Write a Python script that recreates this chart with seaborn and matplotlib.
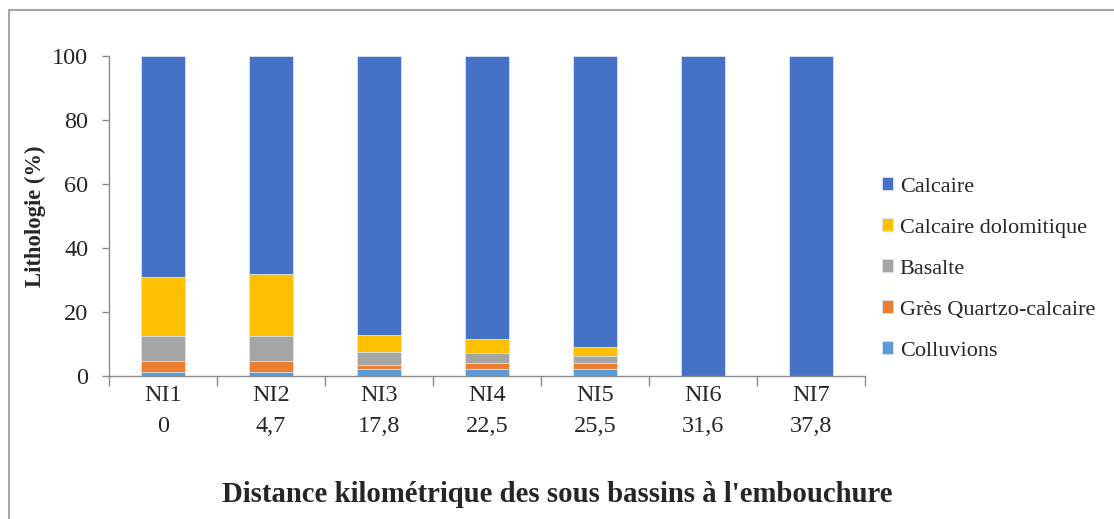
import numpy as np
import pandas as pd
import matplotlib
matplotlib.use('Agg')
import matplotlib.pyplot as plt
import matplotlib.transforms as mtransforms
from matplotlib.lines import Line2D
import seaborn as sns

# sous bassins and distance to the mouth (km)
categories = ['NI1', 'NI2', 'NI3', 'NI4', 'NI5', 'NI6', 'NI7']
distances = ['0', '4,7', '17,8', '22,5', '25,5', '31,6', '37,8']

# lithologie (%)
colluvions = [1.3, 1.4, 2.1, 2.1, 2.3, 0, 0]
gres = [3.3, 3.2, 1.4, 1.9, 1.7, 0, 0]
basalte = [7.8, 7.8, 4.0, 3.1, 2.3, 0, 0]
dolomitique = [18.6, 19.6, 5.2, 4.4, 2.7, 0, 0]
calcaire = [69.0, 68.0, 87.3, 88.5, 91.0, 100, 100]

series = ['Colluvions', 'Grès Quartzo-calcaire', 'Basalte', 'Calcaire dolomitique', 'Calcaire']
colors = {'Colluvions': '#5B9BD5', 'Grès Quartzo-calcaire': '#ED7D31', 'Basalte': '#A5A5A5',
          'Calcaire dolomitique': '#FFC000', 'Calcaire': '#4472C4'}

df = pd.DataFrame({'Colluvions': colluvions, 'Grès Quartzo-calcaire': gres, 'Basalte': basalte,
                   'Calcaire dolomitique': dolomitique, 'Calcaire': calcaire}, index=categories)
cum = df[series].cumsum(axis=1)

sns.set_theme(style='white')
plt.rcParams['font.family'] = ['Liberation Serif', 'DejaVu Serif']

fig = plt.figure(figsize=(11.14, 5.19), dpi=100)
ax = fig.add_axes([109 / 1114, 1 - 376 / 519, 756 / 1114, 320 / 519])

# stacked bars: draw cumulative totals from the top layer down
for s in series[::-1]:
    sns.barplot(x=categories, y=cum[s].values, order=categories, color=colors[s], saturation=1,
                width=0.4, edgecolor='#dbe4f3', linewidth=0.6, label=s, ax=ax)

ax.set_xlim(-0.5, 6.5)
ax.set_ylim(0, 100)
ax.set_yticks(np.arange(0, 101, 20))
ax.tick_params(axis='y', labelsize=17.5, length=5, width=1, color='#8c8c8c', pad=10, left=True)
ax.set_xticks(range(len(categories)))
ax.set_xticklabels(categories)
ax.tick_params(axis='x', which='major', labelsize=17.5, length=0, pad=6.5)
ax.set_xticks(np.arange(-0.5, 7, 1), minor=True)
ax.tick_params(axis='x', which='minor', length=7, width=1, color='#8c8c8c', bottom=True)

for side in ['top', 'right']:
    ax.spines[side].set_visible(False)
for side in ['left', 'bottom']:
    ax.spines[side].set_color('#8c8c8c')
    ax.spines[side].set_linewidth(1)

trans = mtransforms.blended_transform_factory(ax.transData, ax.transAxes)
for i, d in enumerate(distances):
    ax.text(i, -50 / 320, d, transform=trans, ha='center', va='center', fontsize=17.5)

ax.set_xlabel('')
ax.set_ylabel('Lithologie (%)', fontsize=16.3, fontweight='bold')
ax.yaxis.set_label_coords(-0.083, 0.5)
fig.text(0.5, 1 - 495 / 519, "Distance kilométrique des sous bassins à l'embouchure",
         ha='center', va='center', fontsize=20.7, fontweight='bold')

ax.legend(loc='center left', bbox_to_anchor=(882 / 1114, 1 - 269 / 519), bbox_transform=fig.transFigure,
          frameon=False, fontsize=16, handlelength=0.5, handleheight=0.5, handletextpad=0.3,
          labelspacing=0.98, borderpad=0, borderaxespad=0)

# outer chart frame
fig.add_artist(Line2D([9 / 1114, 1], [1 - 10 / 519] * 2, transform=fig.transFigure, color='#a6a6a6', lw=1.5))
fig.add_artist(Line2D([9 / 1114] * 2, [0, 1 - 10 / 519], transform=fig.transFigure, color='#a6a6a6', lw=1.5))

fig.savefig('out.png', dpi=100)
